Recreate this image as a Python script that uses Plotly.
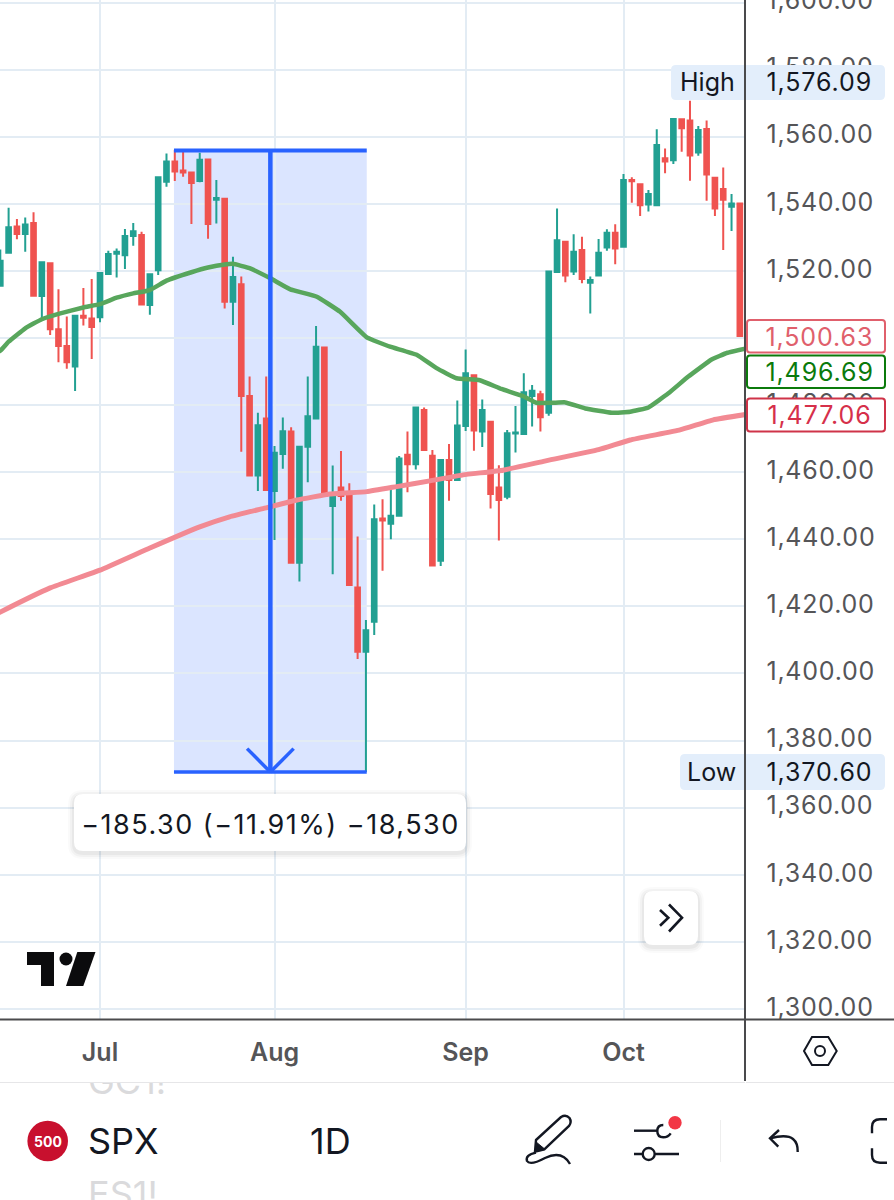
import plotly.graph_objects as go

W, H = 894, 1200

opens = [1515.6,1525.4,1533.2,1531,1534.3,1512.5,1522.3,1502.6,1497.6,1491.5,
1506.6,1505.8,1506.2,1519.1,1525.1,1524.7,1530.4,1530.7,1509.8,1520.2,
1546.6,1552.6,1549.9,1549.3,1546.8,1553.2,1541.2,1541.5,1510.8,1516,
1482.7,1459,1476,1454.4,1465.4,1472.1,1433,1467.6,1476,1497.2,
1449.9,1455.4,1452.9,1425.6,1406.5,1415.4,1446.2,1444.6,1447,1465.2,
1462.4,1478.5,1464.9,1433.6,1463.6,1457.7,1473.8,1488.9,1472.1,1475,
1455.4,1452.7,1471.5,1471.4,1482.7,1483.2,1477.7,1519.7,1528.7,1519.8,
1526.2,1516.5,1518.6,1527,1531.4,1527.2,1547.1,1545.8,1539.8,1539.6,
1553.6,1553,1565.2,1564.8,1555.3,1562.3,1547.8,1544.4,1539.1,1540.1]
closes = [1523,1533,1531,1533.8,1512.6,1522.6,1502.6,1497.6,1492.8,1506.6,
1506,1503.3,1519.4,1525,1525.7,1530.4,1531.8,1510,1519,1547.9,
1552.6,1549.6,1549.3,1546.2,1553.1,1534,1541.7,1510.8,1518.2,1482.7,
1459,1474,1454.7,1465.8,1472.2,1433,1467.6,1476.7,1497.4,1453,
1453.7,1452.9,1426.4,1406.5,1412.9,1446,1445.6,1447,1464.1,1462.4,
1479.3,1466.6,1432.2,1463.6,1457.7,1473.9,1489.5,1472.4,1478.5,1453.5,
1451.7,1471.6,1471.8,1483.8,1484.3,1476.4,1519.8,1529.1,1518.6,1525.7,
1517.6,1517.3,1525.4,1531.4,1526.7,1547.1,1546.7,1539.6,1542.9,1557.5,
1552.6,1565.3,1562.5,1554.4,1562,1548.7,1538.6,1541.2,1540.1,1500.63]
highs = [1526.4,1538.8,1535.5,1535.9,1537.5,1522.9,1522.4,1514.5,1506.4,1506.9,
1514.9,1517.6,1519.6,1526,1526.7,1532.5,1534.3,1531.7,1519.3,1548.1,
1555,1556,1555.5,1549.3,1555.2,1553.3,1547.1,1541.6,1524.2,1518.3,
1488.5,1477.7,1488.5,1467.8,1476.3,1473.4,1467.6,1488.5,1503.6,1497.2,
1462,1466.3,1456.7,1440.8,1415.9,1450.4,1451.9,1455.4,1464.8,1472.1,
1479.3,1479.3,1466.6,1463.6,1468.4,1481.4,1496.6,1488.9,1481.7,1475,
1462.1,1472.6,1479.7,1489.5,1486,1484.3,1520,1538.6,1528.9,1530.9,
1530.2,1518.3,1529.5,1532.4,1533.9,1548.9,1547.9,1545.8,1544.1,1562.2,
1556.5,1565.3,1565.5,1570.7,1563.2,1564.8,1547.9,1550.8,1542.9,1540.1]
lows = [1515.6,1525.4,1529.4,1525.7,1512.4,1505.4,1500.9,1492.8,1490.8,1484.2,
1503.7,1493.7,1504.7,1519.1,1518,1520.6,1527.5,1510,1506.9,1518.8,
1545.1,1546.8,1548.1,1534,1546.4,1529.6,1534.1,1508.8,1503.9,1466.1,
1459,1454.4,1454.4,1439.8,1461,1433,1427.4,1457,1476,1453,
1429.6,1451.5,1426.4,1404.3,1370.6,1411.5,1430.6,1440,1447,1454,
1460.8,1466.3,1432.2,1432,1451.5,1457.7,1472.3,1466.4,1467.5,1449.2,
1439.6,1451.9,1465.9,1471.4,1473.6,1472.1,1476.8,1519.7,1516.6,1518.8,
1516.3,1507.3,1518.6,1526,1522,1527.2,1540.3,1536.4,1537.7,1539.6,
1549.1,1551.9,1555.5,1546.9,1554.3,1540.9,1536.4,1526.2,1531.9,1500.63]
days = list(range(len(opens)))

ma50_x = [-1,0,1,3,5,7,10,12,14,16,18,20,23,25,27,28,30,32.5,34.9,38.1,40.9,44.1,46.9,50.1,52.5,54.9,57.7,60.3,62.9,64.5,66.5,68,70.4,73.6,75.8,78,80.4,82.8,85.6,87.5,90]
ma50_y = [1495,1496.2,1498.9,1502.9,1505.6,1507.2,1509.1,1510.1,1512,1513.3,1514.3,1517.1,1519.6,1521,1521.9,1522.1,1520.8,1517.8,1514.5,1512.3,1507.8,1500.2,1497.4,1495,1491,1488,1487.4,1484.8,1482.7,1480.7,1480.7,1480.8,1479,1477.7,1478,1479.3,1483.5,1488.5,1493.6,1495.6,1497]
ma200_x = [-1,0,6,12,18,24,27.6,31.7,35.7,39.7,44.1,47.7,51.7,55.7,60.5,65.5,72,75.8,81.8,85.8,90]
ma200_y = [1417,1418.3,1425.5,1430.8,1437.4,1443.7,1446.7,1449.2,1451.7,1453.5,1454.2,1455.7,1457.4,1459.2,1460.6,1463.3,1466.7,1469.6,1472.6,1475.6,1477.3]

price_ticks = list(range(1300, 1601, 20))
month_days = [12, 33, 56, 75]
month_labels = ["Jul", "Aug", "Sep", "Oct"]

measure_start, measure_end = 20.9, 44.1
measure_mid = 32.5
measure_high, measure_low = 1555.9, 1370.6

FONT = "Inter"
DARK = "#131722"
GREY = "#555558"
LABEL_BLUE = "#E3EEFB"


def pt(x, y):
    return f"{x / W:.5f},{1 - y / H:.5f}"


def poly(cmds):
    """Build a paper-space path from commands given in page pixels."""
    out = []
    for c in cmds:
        op, nums = c[0], c[1:]
        coords = " ".join(pt(nums[i], nums[i + 1]) for i in range(0, len(nums), 2))
        out.append(op + coords)
    return " ".join(out)


def rrect(x0, y0, x1, y1, r):
    return poly([("M", x0 + r, y0), ("L", x1 - r, y0), ("Q", x1, y0, x1, y0 + r),
                 ("L", x1, y1 - r), ("Q", x1, y1, x1 - r, y1), ("L", x0 + r, y1),
                 ("Q", x0, y1, x0, y1 - r), ("L", x0, y0 + r), ("Q", x0, y0, x0 + r, y0), ("Z",)])


shapes = []


def path(d, fill=None, line=None, lw=0, opacity=1):
    s = dict(type="path", path=d, xref="paper", yref="paper", layer="above", opacity=opacity,
             line=dict(color=line or "rgba(0,0,0,0)", width=lw))
    if fill:
        s["fillcolor"] = fill
    shapes.append(s)


def circle(cx, cy, r, fill=None, line=None, lw=0):
    s = dict(type="circle", xref="paper", yref="paper", layer="above",
             x0=(cx - r) / W, x1=(cx + r) / W, y0=1 - (cy + r) / H, y1=1 - (cy - r) / H,
             line=dict(color=line or "rgba(0,0,0,0)", width=lw))
    if fill:
        s["fillcolor"] = fill
    shapes.append(s)


def shadow(x0, y0, x1, y1, r):
    for e, o in ((6, .02), (4, .03), (2, .04)):
        path(rrect(x0 - e, y0 - e + 2, x1 + e, y1 + e + 2, r + e), fill="#000000", opacity=o)


# measuring tool, in data coordinates
BLUE = "#2962FF"
shapes.append(dict(type="rect", xref="x", yref="y", layer="below",
                   x0=measure_start, x1=measure_end, y0=measure_low, y1=measure_high,
                   fillcolor="rgba(41,98,255,0.17)", line=dict(width=0)))
for x0, y0, x1, y1, w in [
    (measure_start, measure_high, measure_end, measure_high, 4),
    (measure_start, measure_low, measure_end, measure_low, 3.5),
    (measure_mid, measure_high, measure_mid, measure_low, 4.5),
    (measure_mid - 2.8, measure_low + 7, measure_mid, measure_low, 3.5),
    (measure_mid + 2.8, measure_low + 7, measure_mid, measure_low, 3.5),
]:
    shapes.append(dict(type="line", xref="x", yref="y", layer="above",
                       x0=x0, x1=x1, y0=y0, y1=y1, line=dict(color=BLUE, width=w)))

# white panel cutting off the lowest price label
path(rrect(746, 1020.5, 894, 1081.5, 0), fill="#FFFFFF")

# price labels
path(rrect(671, 65, 885, 100, 5), fill=LABEL_BLUE)
path(rrect(680, 754, 885, 790, 5), fill=LABEL_BLUE)
path(rrect(747, 320, 885, 352.5, 3), fill="#FFFFFF", line="#E0606C", lw=2)
path(rrect(747, 355.5, 885, 388, 3), fill="#FFFFFF", line="#0B7A0B", lw=2)
path(rrect(747, 398.5, 885, 431.5, 3), fill="#FFFFFF", line="#CF3348", lw=2)

# frame lines
path(poly([("M", 745, 0), ("L", 745, 1081)]), line="#4A4A4C", lw=2)
path(poly([("M", 0, 1019.5), ("L", 894, 1019.5)]), line="#4A4A4C", lw=2)
path(poly([("M", 0, 1082.5), ("L", 745, 1082.5), ("M", 746, 1082.5), ("L", 894, 1082.5)]), line="#E6E6E8", lw=1)

# tooltip
shadow(74, 794, 466, 851, 9)
path(rrect(74, 794, 466, 851, 9), fill="#FFFFFF")

# jump button
shadow(644, 891, 698, 945, 9)
path(rrect(644, 891, 698, 945, 9), fill="#FFFFFF")
path(poly([("M", 660, 910), ("L", 668.3, 917.7), ("L", 660, 925.7)]), line="#131722", lw=2.6)
path(poly([("M", 669, 904.5), ("L", 682, 917.7), ("L", 669, 931.5)]), line="#131722", lw=2.6)

# TradingView logo
path(poly([("M", 27, 952), ("L", 54, 952), ("L", 54, 986), ("L", 41, 986), ("L", 41, 965), ("L", 27, 965), ("Z",)]), fill="#0B0B0D")
circle(66, 959, 6.5, fill="#0B0B0D")
path(poly([("M", 77.3, 952), ("L", 95.5, 952), ("L", 83.3, 986), ("L", 66, 986), ("Z",)]), fill="#0B0B0D")

# hexagon settings icon
path(poly([("M", 804, 1051), ("L", 812, 1037), ("L", 828.3, 1037), ("L", 836.7, 1051), ("L", 828.3, 1065), ("L", 812, 1065), ("Z",)]), line=DARK, lw=2)
circle(820, 1051, 5, line=DARK, lw=2)

# symbol badge
circle(47.7, 1141, 20.3, fill="#C8102E")

# pencil
path(poly([("M", 536, 1140), ("L", 561, 1117), ("Q", 566, 1114, 569.5, 1118), ("Q", 572, 1122, 569, 1126), ("L", 544.3, 1149.3), ("L", 535, 1151.7), ("Z",)]), line=DARK, lw=2.4)
path(poly([("M", 535, 1151.7), ("L", 536.7, 1142.5), ("L", 545, 1149.3), ("Z",)]), fill=DARK, line=DARK, lw=1)
path(poly([("M", 536, 1152.7), ("Q", 525, 1155, 527, 1161), ("Q", 530, 1166, 545, 1158), ("Q", 562, 1150, 570, 1164)]), line=DARK, lw=2.4)

# sliders
path(poly([("M", 634, 1130.7), ("L", 657, 1130.7)]), line=DARK, lw=2.4)
path(poly([("M", 663.3, 1125), ("Q", 657.3, 1125, 657.3, 1131), ("Q", 657.3, 1137.3, 663.3, 1137.3), ("Q", 668, 1137.3, 670.7, 1133.3)]), line=DARK, lw=2.4)
path(poly([("M", 634, 1154), ("L", 642.7, 1154), ("M", 654.7, 1154), ("L", 679, 1154)]), line=DARK, lw=2.4)
circle(648.7, 1154, 6, line=DARK, lw=2.4)
circle(675, 1122.7, 6.7, fill="#F23645")
path(poly([("M", 720.5, 1120), ("L", 720.5, 1162)]), line="#EEEEEE", lw=1)

# undo
path(poly([("M", 770, 1138.3), ("Q", 787, 1134, 793, 1139), ("Q", 798, 1143, 797.7, 1152)]), line=DARK, lw=2.4)
path(poly([("M", 779, 1130), ("L", 770, 1138.3), ("L", 778.3, 1146.7)]), line=DARK, lw=2.4)

# fullscreen bracket
path(poly([("M", 887, 1119.3), ("L", 880, 1119.3), ("Q", 872, 1119.3, 872, 1127), ("L", 872, 1133.3)]), line=DARK, lw=2.4)
path(poly([("M", 872, 1148.3), ("L", 872, 1155), ("Q", 872, 1162.7, 880, 1162.7), ("L", 887, 1162.7)]), line=DARK, lw=2.4)


def note(x, y, text, size=25, color=DARK, anchor="left", weight=None):
    font = dict(family=FONT, size=size, color=color)
    if weight:
        font["weight"] = weight
    return dict(xref="paper", yref="paper", x=x / W, y=1 - y / H, text=text, showarrow=False,
                xanchor=anchor, yanchor="middle", font=font, borderpad=0)


annotations = [
    note(679, 82, "High"),
    note(819, 82, "1,576.09", anchor="center"),
    note(686, 772, "Low"),
    note(819, 772, "1,370.60", anchor="center"),
    note(819, 336.5, "1,500.63", color="#E0606C", anchor="center"),
    note(819, 372, "1,496.69", color="#0B7A0B", anchor="center"),
    note(819, 415, "1,477.06", color="#D6304A", anchor="center"),
    note(270, 824, "\u2212185.30 (\u221211.91%) \u221218,530", size=27, anchor="center"),
    note(47.7, 1141, "500", size=14, color="#FFFFFF", anchor="center", weight=700),
    note(87, 1141, "SPX", size=36),
    note(309, 1141, "1D", size=36),
]

fig = go.Figure()
fig.add_trace(go.Scatter(x=ma200_x, y=ma200_y, mode="lines", line=dict(color="#F28A93", width=5, shape="spline", smoothing=0.3), showlegend=False, hoverinfo="skip"))
fig.add_trace(go.Scatter(x=ma50_x, y=ma50_y, mode="lines", line=dict(color="#58A65C", width=4.5, shape="spline", smoothing=0.3), showlegend=False, hoverinfo="skip"))
fig.add_trace(go.Candlestick(
    x=days, open=opens, high=highs, low=lows, close=closes, showlegend=False,
    increasing=dict(line=dict(color="#22A092", width=2), fillcolor="#22A092"),
    decreasing=dict(line=dict(color="#EF5350", width=2), fillcolor="#EF5350"),
    whiskerwidth=0,
))
fig.add_trace(go.Scatter(
    x=[88, 88], y=[1085, 1198], text=["GC1!", "ES1!"], mode="text", textposition="middle right",
    textfont=dict(family=FONT, size=36, color="#DADADC"), xaxis="x2", yaxis="y2",
    cliponaxis=True, showlegend=False, hoverinfo="skip"))

fig.update_layout(
    width=W, height=H, margin=dict(l=0, r=0, t=0, b=0, pad=0, autoexpand=False),
    paper_bgcolor="#FFFFFF", plot_bgcolor="#FFFFFF",
    boxgap=0.2, showlegend=False, shapes=shapes, annotations=annotations,
    xaxis=dict(domain=[0, 745 / W], range=[-0.036, 89.62], anchor="y", tickmode="array",
               tickvals=month_days, ticktext=month_labels, showgrid=True, gridcolor="#E3ECF4", gridwidth=2,
               zeroline=False, showline=False, ticks="outside", ticklen=11, tickcolor="rgba(0,0,0,0)",
               tickfont=dict(family=FONT, size=25, color=GREY, weight=600), rangeslider=dict(visible=False)),
    yaxis=dict(domain=[1 - 1019 / H, 1], range=[1297.0, 1600.75], side="right", anchor="x", tickmode="array",
               tickvals=price_ticks, tickformat=",.2f", showgrid=True, gridcolor="#E3ECF4", gridwidth=2,
               zeroline=False, showline=False, ticks="outside", ticklen=15.5, tickcolor="rgba(0,0,0,0)",
               ticklabeloverflow="allow", tickfont=dict(family=FONT, size=25, color=GREY)),
    xaxis2=dict(domain=[0, 1], range=[0, W], anchor="y2", visible=False),
    yaxis2=dict(domain=[0, 117 / H], range=[1200, 1083], anchor="x2", visible=False),
)

# Page tweaks: no body margin, wider tracking on the price figures as in the reference.
post = """
document.body.style.margin = '0';
document.querySelectorAll('.ytick text').forEach(function (t) {
  t.style.letterSpacing = '0.75px';
  t.setAttribute('dy', '-2');
});
document.querySelectorAll('.annotation-text').forEach(function (t) {
  var s = t.textContent;
  if (s.indexOf('%') >= 0) { t.style.letterSpacing = '1.5px'; }
  else if (s.indexOf(',') >= 0) { t.style.letterSpacing = '0.9px'; }
});
"""
fig.write_html("out.html", post_script=post, config={"displayModeBar": False})
